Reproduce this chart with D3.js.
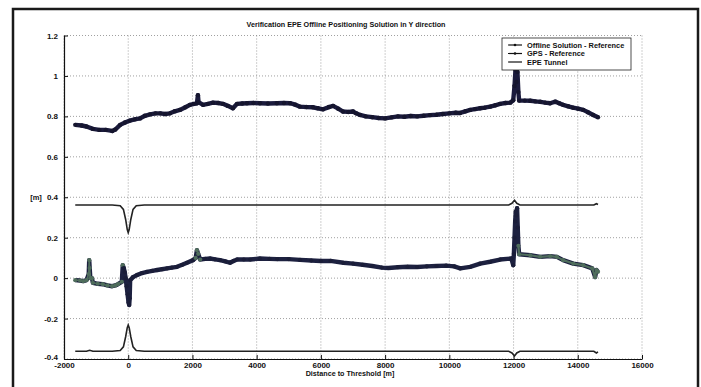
<!DOCTYPE html>
<html>
<head>
<meta charset="utf-8">
<script src="https://cdn.jsdelivr.net/npm/d3@7"></script>
<style>
  body { margin: 0; background: #fff; }
  svg text { font-family: "Liberation Sans", Arial, sans-serif; font-weight: bold; fill: #111; }
</style>
</head>
<body>
<div id="chart"></div>
<script>
// data
var xTicks = [-2000, 0, 2000, 4000, 6000, 8000, 10000, 12000, 14000, 16000];
var xTickLabels = ["-2000", "0", "2000", "4000", "6000", "8000", "10000", "12000", "14000", "16000"];
var yTicks = [-0.4, -0.2, 0, 0.2, 0.4, 0.6, 0.8, 1, 1.2];
var yTickLabels = ["-0.4", "-0.2", "0", "0.2", "0.4", "0.6", "0.8", "1", "1.2"];
var seriesNames = ["Offline Solution - Reference", "GPS - Reference", "EPE Tunnel"];

var offlineX = [-1650,-1450,-1300,-1100,-900,-700,-500,-400,-250,-100,50,200,370,520,680,850,1000,1150,1300,1450,1610,1780,1920,2050,2140,2170,2190,2330,2480,2640,2800,2950,3100,3260,3390,3550,3700,3900,4100,4350,4630,4850,5040,5200,5350,5550,5750,5900,6070,6250,6380,6540,6690,6850,7000,7100,7220,7400,7600,7800,8000,8200,8400,8600,8800,9000,9200,9400,9600,9800,10000,10200,10335,10500,10650,10800,10960,11100,11270,11430,11580,11750,11900,11990,12030,12060,12090,12120,12150,12175,12350,12520,12680,12830,12990,13140,13300,13420,13545,13700,13855,14010,14170,14320,14480,14630];
var offlineY = [0.758,0.755,0.750,0.738,0.733,0.733,0.728,0.735,0.758,0.770,0.779,0.785,0.790,0.803,0.810,0.815,0.815,0.812,0.815,0.825,0.832,0.845,0.857,0.862,0.865,0.905,0.870,0.857,0.862,0.868,0.866,0.862,0.852,0.840,0.862,0.864,0.865,0.866,0.865,0.864,0.865,0.866,0.865,0.858,0.848,0.846,0.845,0.840,0.835,0.846,0.852,0.838,0.824,0.822,0.824,0.815,0.807,0.800,0.796,0.792,0.790,0.795,0.800,0.798,0.802,0.800,0.803,0.806,0.808,0.812,0.815,0.818,0.817,0.825,0.832,0.836,0.840,0.843,0.848,0.855,0.862,0.866,0.868,0.880,0.950,1.030,0.970,1.020,0.920,0.878,0.878,0.877,0.874,0.872,0.868,0.865,0.873,0.865,0.857,0.850,0.843,0.838,0.832,0.820,0.807,0.796];

var gpsX = [-1650,-1500,-1400,-1300,-1230,-1215,-1200,-1180,-1130,-1100,-950,-790,-650,-500,-400,-320,-200,-170,-140,-110,-80,-50,-20,10,30,45,60,150,270,430,585,750,900,1050,1210,1360,1520,1680,1830,2020,2100,2140,2180,2240,2400,2550,2700,2860,3020,3170,3280,3390,3600,3800,4100,4400,4640,5000,5350,5700,6000,6300,6700,7000,7300,7600,7900,8100,8400,8700,9000,9300,9600,9900,10150,10340,10650,10960,11270,11580,11930,11990,12010,12030,12050,12070,12090,12110,12130,12150,12175,12520,12830,13140,13350,13545,13860,14170,14450,14540,14580,14630];
var gpsY = [-0.010,-0.012,-0.015,-0.010,0.020,0.089,0.050,0.000,0.000,-0.023,-0.028,-0.030,-0.036,-0.040,-0.036,-0.030,-0.018,0.064,0.050,0.030,0.000,-0.040,-0.080,-0.120,-0.133,-0.100,-0.010,0.005,0.015,0.025,0.031,0.036,0.040,0.044,0.048,0.052,0.056,0.066,0.076,0.089,0.100,0.138,0.120,0.092,0.095,0.097,0.093,0.089,0.083,0.076,0.085,0.092,0.092,0.092,0.097,0.095,0.094,0.094,0.090,0.087,0.085,0.085,0.076,0.072,0.066,0.060,0.052,0.050,0.054,0.056,0.055,0.058,0.060,0.062,0.058,0.048,0.056,0.072,0.081,0.092,0.097,0.064,0.120,0.200,0.280,0.330,0.310,0.346,0.250,0.160,0.118,0.113,0.105,0.109,0.105,0.089,0.072,0.064,0.048,0.005,0.040,0.031];

var epeUpX = [-1650,-500,-250,-150,-80,-30,0,30,80,150,250,500,11850,11950,12030,12100,12200,14500,14580,14630];
var epeUpY = [0.362,0.362,0.358,0.340,0.290,0.240,0.225,0.240,0.290,0.340,0.358,0.362,0.362,0.370,0.385,0.370,0.362,0.362,0.368,0.364];
var epeLoX = [-1650,-1300,-1200,-1100,-500,-250,-150,-80,-30,0,30,80,150,250,500,11850,11950,12030,12100,12200,14500,14580,14630];
var epeLoY = [-0.362,-0.362,-0.357,-0.362,-0.362,-0.358,-0.340,-0.290,-0.245,-0.232,-0.245,-0.290,-0.340,-0.358,-0.362,-0.362,-0.370,-0.385,-0.370,-0.362,-0.362,-0.370,-0.365];

//Canvas
var w = 701, h = 387;
var svg = d3.select("#chart").append("svg").attr("width", w).attr("height", h);

var plotLeft = 64, plotRight = 642, plotTop = 35.5, plotBottom = 359;
var xscale = d3.scaleLinear().domain([-2000, 16000]).range([plotLeft, plotRight]);
var yscale = d3.scaleLinear().domain([-0.4, 1.2]).range([plotBottom, plotTop]);

// outer frame of the scanned figure
svg.append("path").attr("d", "M13,387 L13,9 L698,9 L698,387")
   .attr("fill", "none").attr("stroke", "#1a1a1a").attr("stroke-width", 2.5);

// dotted grid
svg.append("g").selectAll("line").data(xTicks).enter().append("line")
   .attr("x1", d => xscale(d)).attr("x2", d => xscale(d)).attr("y1", plotTop).attr("y2", plotBottom)
   .attr("stroke", "#888").attr("stroke-width", 0.8).attr("stroke-dasharray", "1,2");
svg.append("g").selectAll("line").data(yTicks).enter().append("line")
   .attr("x1", plotLeft).attr("x2", plotRight).attr("y1", d => yscale(d)).attr("y2", d => yscale(d))
   .attr("stroke", "#888").attr("stroke-width", 0.8).attr("stroke-dasharray", "1,2");

//Axes
var xaxis = d3.axisBottom(xscale).tickValues(xTicks)
  .tickFormat((d, i) => xTickLabels[i]).tickSizeInner(-4).tickSizeOuter(0).tickPadding(3);
var yaxis = d3.axisLeft(yscale).tickValues(yTicks)
  .tickFormat((d, i) => yTickLabels[i]).tickSizeInner(-4).tickSizeOuter(0).tickPadding(6);

var gx = svg.append("g").attr("transform", "translate(0," + plotBottom + ")").call(xaxis);
var gy = svg.append("g").attr("transform", "translate(" + plotLeft + ",0)").call(yaxis);
[gx, gy].forEach(function(g) {
  g.select(".domain").attr("stroke", "#111").attr("stroke-width", 1.2);
  g.selectAll(".tick line").attr("stroke", "#111");
  g.selectAll(".tick text").style("font-size", "8px").attr("fill", "#111");
});
// corner label sits a little above the x tick label, as in the scan
gy.selectAll(".tick text").filter(d => d === -0.4).attr("dy", "0.1em");

// lines
var line = d3.line().x(d => xscale(d[0])).y(d => yscale(d[1]));
var zip = (xs, ys) => xs.map((x, i) => [x, ys[i]]);

var epeUp = zip(epeUpX, epeUpY), epeLo = zip(epeLoX, epeLoY);
[epeUp, epeLo].forEach(function(pts) {
  svg.append("path").datum(pts).attr("d", line).attr("fill", "none")
     .attr("stroke", "#222").attr("stroke-width", 1.6);
});

// green markers only show where the scan shows them
var greenPart = d => d[0] < -150 || (d[0] > 2080 && d[0] < 2260) || d[0] > 12140;

var gps = zip(gpsX, gpsY);
svg.append("path").datum(gps).attr("d", line).attr("fill", "none")
   .attr("stroke", "#1d2140").attr("stroke-width", 4.4).attr("stroke-linejoin", "round");
svg.append("g").selectAll("circle").data(gps).enter().append("circle")
   .attr("cx", d => xscale(d[0])).attr("cy", d => yscale(d[1])).attr("r", 2.1)
   .attr("fill", d => greenPart(d) ? "#4f6d5c" : "#1a1d38");
svg.append("path").datum(gps.filter(d => d[0] > 12140)).attr("d", line).attr("fill", "none")
   .attr("stroke", "#4f6d5c").attr("stroke-width", 2.2).attr("stroke-linejoin", "round");
svg.append("path").datum(gps.filter(d => d[0] < -190)).attr("d", line).attr("fill", "none")
   .attr("stroke", "#4f6d5c").attr("stroke-width", 1.6).attr("stroke-linejoin", "round");

var offline = zip(offlineX, offlineY);
svg.append("path").datum(offline).attr("d", line).attr("fill", "none")
   .attr("stroke", "#1b1b3d").attr("stroke-width", 4.4).attr("stroke-linejoin", "round");
svg.append("g").selectAll("circle").data(offline).enter().append("circle")
   .attr("cx", d => xscale(d[0])).attr("cy", d => yscale(d[1])).attr("r", 2.2)
   .attr("fill", "#15152e");

// title & labels
svg.append("text").attr("x", 346).attr("y", 27).attr("text-anchor", "middle")
   .style("font-size", "7.2px").text("Verification EPE Offline Positioning Solution in Y direction");
svg.append("text").attr("x", 350).attr("y", 376).attr("text-anchor", "middle")
   .style("font-size", "7.2px").text("Distance to Threshold [m]");
svg.append("text").attr("x", 36).attr("y", 200).attr("text-anchor", "middle")
   .style("font-size", "7.5px").text("[m]");

//legend
var legend = svg.append("g");
legend.append("rect").attr("x", 502).attr("y", 38).attr("width", 129).attr("height", 32)
   .attr("fill", "#fff").attr("stroke", "#222").attr("stroke-width", 0.8);
var items = legend.selectAll(".legenditem").data(seriesNames).enter().append("g")
   .attr("class", "legenditem").attr("transform", (d, i) => "translate(0," + (45 + i * 8.5) + ")");
items.append("line").attr("x1", 508).attr("x2", 522).attr("y1", 0).attr("y2", 0)
   .attr("stroke", "#111").attr("stroke-width", 1.2);
items.filter((d, i) => i < 2).append("circle").attr("cx", 515).attr("cy", 0).attr("r", 1.3).attr("fill", "#111");
items.append("text").attr("x", 527).attr("y", 2.6).style("font-size", "7.4px").text(d => d);
</script>
</body>
</html>
